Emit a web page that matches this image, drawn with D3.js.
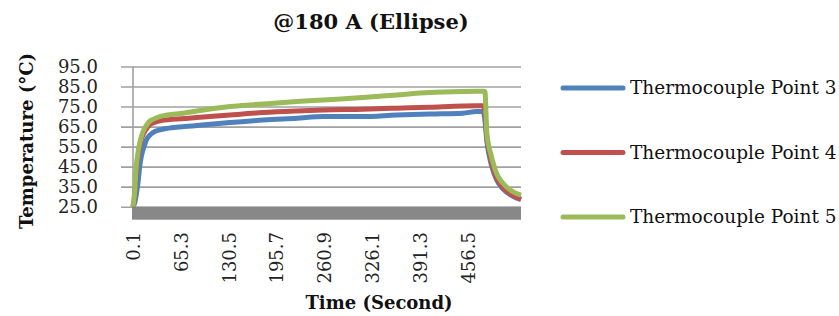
<!DOCTYPE html>
<html>
<head>
<meta charset="utf-8">
<script src="https://cdn.jsdelivr.net/npm/d3@7"></script>
<style>
  body { margin: 0; background: #fff; }
  svg { display: block; font-family: "DejaVu Serif", serif; }
</style>
</head>
<body>
<div id="chart"></div>
<script>
// seconds
var times = [0.1, 2.5, 4.6, 6.9, 9.2, 11.4, 16, 18.2, 23.2, 27.3, 38.6, 70.5, 86.8, 132.2, 177.5, 223, 259.2, 313.2, 359.1, 404.4, 449.4, 468, 477, 479.5, 482, 485, 488.5, 495.3, 504.3, 517.9, 528.6];
var point3 = [25, 27, 31, 37, 45, 50, 56, 58.3, 60.8, 62, 63.5, 65, 65.5, 67, 68.3, 69.2, 70, 70, 70.8, 71.3, 71.7, 72.5, 72.5, 68, 58, 51, 45.5, 38.5, 33.8, 30.2, 28.5];
var point4 = [25, 31, 42, 50, 55, 58.5, 62.5, 63.8, 66, 66.8, 68, 69, 69.5, 70.8, 72, 72.8, 73.3, 73.7, 74.2, 74.7, 75.3, 75.4, 75.4, 72, 60, 53, 47, 39.5, 34.5, 30.5, 28.7];
var point5 = [25, 33, 45, 52, 56.7, 60, 64.2, 65.5, 67.8, 68.6, 70.2, 71.8, 72.8, 75, 76.3, 77.5, 78.3, 79.5, 80.8, 82, 82.5, 82.6, 82.6, 82.5, 62, 55, 49.8, 41.6, 36.6, 32.4, 30.8];

var seriesNames = ["Thermocouple Point 3", "Thermocouple Point 4", "Thermocouple Point 5"];
var seriesColors = ["#4f81bd", "#c0504d", "#9bbb59"];
var yTicks = [25, 35, 45, 55, 65, 75, 85, 95];
var xTicks = [0.1, 65.3, 130.5, 195.7, 260.9, 326.1, 391.3, 456.5];

var width = 839, height = 316;
var plotLeft = 133, plotRight = 521, plotTop = 66.5, plotBottom = 206.7;

var svg = d3.select("#chart").append("svg").attr("width", width).attr("height", height);

var x = d3.scaleLinear().domain([0.1, 528.6]).range([plotLeft, plotRight]);
var y = d3.scaleLinear().domain([25, 95]).range([plotBottom, plotTop]);

// gridlines + y labels
var yAxis = svg.append("g")
  .attr("transform", "translate(121,0)")
  .call(d3.axisLeft(y).tickValues(yTicks).tickSize(-(plotRight - 121)).tickPadding(23)
    .tickFormat(d3.format(".1f")));
yAxis.select(".domain").remove();
yAxis.selectAll("line").attr("stroke", "#a0a0a0").attr("stroke-width", 1.6);
yAxis.selectAll("text").attr("font-size", 18).attr("fill", "#222").attr("font-family", "DejaVu Serif");

// vertical axis line
svg.append("line").attr("x1", plotLeft).attr("x2", plotLeft).attr("y1", plotTop).attr("y2", plotBottom)
  .attr("stroke", "#a0a0a0").attr("stroke-width", 1.6);

// floor
svg.append("rect").attr("x", plotLeft - 1).attr("y", plotBottom).attr("width", plotRight - plotLeft + 1).attr("height", 13)
  .attr("fill", "#888888");

// x labels
var xAxis = svg.append("g")
  .attr("transform", "translate(0,232)")
  .call(d3.axisBottom(x).tickValues(xTicks).tickSize(0).tickFormat(d3.format(".1f")));
xAxis.select(".domain").remove();
xAxis.selectAll("text")
  .attr("font-size", 18).attr("fill", "#222").attr("font-family", "DejaVu Serif")
  .attr("transform", "rotate(-90)")
  .attr("text-anchor", "end")
  .attr("x", 0).attr("y", 0).attr("dy", "0.35em");

// lines
var line = d3.line()
  .x(function (d) { return x(d[0]); })
  .y(function (d) { return y(d[1]); })
  .curve(d3.curveMonotoneX);

[point3, point4, point5].forEach(function (vals, i) {
  svg.append("path")
    .datum(times.map(function (t, j) { return [t, vals[j]]; }))
    .attr("fill", "none")
    .attr("stroke", seriesColors[i])
    .attr("stroke-width", 5)
    .attr("stroke-linejoin", "round")
    .attr("d", line);
});

// title
svg.append("text").attr("x", 371).attr("y", 29).attr("text-anchor", "middle")
  .attr("font-size", 21).attr("font-weight", "bold").attr("fill", "#111")
  .text("@180 A (Ellipse)");

svg.append("text").attr("x", 379).attr("y", 309).attr("text-anchor", "middle")
  .attr("font-size", 18).attr("font-weight", "bold").attr("fill", "#111")
  .text("Time (Second)");

svg.append("text").attr("transform", "translate(33,141) rotate(-90)").attr("text-anchor", "middle")
  .attr("font-size", 18).attr("font-weight", "bold").attr("fill", "#111")
  .text("Temperature (°C)");

// legend
var legend = svg.selectAll(".legend").data(seriesNames).enter().append("g")
  .attr("class", "legend")
  .attr("transform", function (d, i) { return "translate(0," + (88 + i * 64.5) + ")"; });
legend.append("line").attr("x1", 563).attr("x2", 623).attr("y1", 0).attr("y2", 0)
  .attr("stroke", function (d, i) { return seriesColors[i]; })
  .attr("stroke-width", 5).attr("stroke-linecap", "round");
legend.append("text").attr("x", 630).attr("y", 0).attr("dy", "0.35em")
  .attr("font-size", 18.5).attr("fill", "#111")
  .text(function (d) { return d; });
</script>
</body>
</html>
